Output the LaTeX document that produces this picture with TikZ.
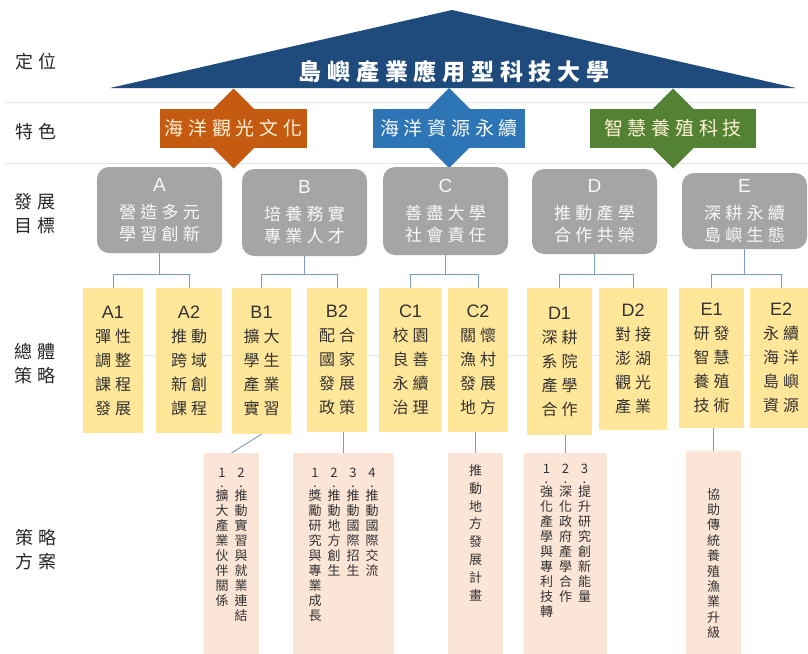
\documentclass[tikz,border=0pt]{standalone}
\usepackage{fontspec}
\setmainfont{Noto Sans CJK TC}
\newfontfamily\spaced[LetterSpace=25]{Noto Sans CJK TC}
\newfontfamily\latin{Liberation Sans}
\definecolor{roofBlue}{HTML}{1F4A7C}
\definecolor{featO}{HTML}{C55A11}
\definecolor{featB}{HTML}{2E75B6}
\definecolor{featG}{HTML}{548235}
\definecolor{featTxt}{HTML}{FFF2D6}
\definecolor{goalGray}{HTML}{A6A4A4}
\definecolor{stratY}{HTML}{FFE699}
\definecolor{planP}{HTML}{FBE5D6}
\definecolor{linkBlue}{HTML}{7A9CC2}
\tikzstyle{rowname}=[font=\spaced\fontsize{18}{24}\selectfont, text=black!85, align=center, inner sep=0]
\tikzstyle{banner}=[font=\spaced\fontsize{19}{23}\selectfont, text=featTxt, inner sep=0, minimum height=39]
\tikzstyle{goal}=[fill=goalGray, rounded corners=12pt, text=white!95!gray, align=center, font=\spaced\fontsize{17}{22}\selectfont, minimum width=125, inner sep=0]
\tikzstyle{strat}=[fill=stratY, align=center, font=\spaced\fontsize{16}{24}\selectfont, text=black!80, inner sep=0]
\tikzstyle{plan}=[fill=planP, anchor=north, minimum height=215, inner sep=0]
\tikzstyle{plantext}=[anchor=north, inner sep=0, font=\fontsize{13}{15}\selectfont, text=black!80]
\tikzstyle{link}=[draw=linkBlue, line width=0.9pt]
\tikzstyle{sep}=[draw=black!10, line width=0.8pt]
% vertical columns of characters
\newdimen\vrow \vrow=15pt
\newcommand\vcell[1]{\hbox to 19pt{\hss\raisebox{0pt}[\dimexpr\vrow-3.5pt\relax][3.5pt]{#1}\hss}}
\def\vchars#1{\ifx\relax#1\else\vcell{#1}\expandafter\vchars\fi}
\newcommand\vcol[2]{\vtop{\offinterlineskip\hbox to 19pt{\hss\raisebox{0pt}[10pt][4pt]{#1}\hss}\hbox to 19pt{\hss\raisebox{0pt}[6pt][2pt]{.}\hss}\vchars#2\relax}}
\newcommand\vplain[1]{\vtop{\offinterlineskip\vchars#1\relax}}

\begin{document}
\begin{tikzpicture}[x=1pt, y=-1pt]
	\useasboundingbox (0,0) rectangle (808,653);
	\draw[sep] (5,102) -- (808,102);
	\draw[sep] (5,163) -- (808,163);
	\draw[draw=linkBlue!25, line width=0.8pt] (83,355) -- (808,355);

	\node[rowname] (rPos) at (36,62) {定位};
	\node[rowname] (rFeat) at (36,132) {特色};
	\node[rowname] (rGoal) at (35,214) {發展\\目標};
	\node[rowname] (rStrat) at (35,364) {總體\\策略};
	\node[rowname] (rPlan) at (36,550) {策略\\方案};

	% roof
	\fill[roofBlue] (110,88) -- (452,10) -- (796,88) -- cycle;
	\node[font=\spaced\bfseries\fontsize{23}{25}\selectfont, text=white] (title) at (454,72) {島嶼產業應用型科技大學};

	\foreach \x/\y/\c in {233.5/128.5/featO, 449/128/featB, 673/128.5/featG}
		\fill[\c] (\x,\y) ++(0,-40) -- ++(40,40) -- ++(-40,40) -- ++(-40,-40) -- cycle;
	\node[banner, fill=featO, minimum width=147] (fTour) at (233.5,128.5) {海洋觀光文化};
	\node[banner, fill=featB, minimum width=152, text=white!95!featB] (fSea) at (449,128) {海洋資源永續};
	\node[banner, fill=featG, minimum width=166] (fAqua) at (673,128.5) {智慧養殖科技};

	\node[goal, minimum height=86] (A) at (159.5,210) {{\latin\fontsize{19}{22}\selectfont A}\\[5pt]營造多元\\學習創新};
	\node[goal, minimum height=87] (B) at (304.5,212.5) {{\latin\fontsize{19}{22}\selectfont B}\\[5pt]培養務實\\專業人才};
	\node[goal, minimum height=88] (C) at (445.5,211) {{\latin\fontsize{19}{22}\selectfont C}\\[5pt]善盡大學\\社會責任};
	\node[goal, minimum height=85] (D) at (594.5,211.5) {{\latin\fontsize{19}{22}\selectfont D}\\[5pt]推動產學\\合作共榮};
	\node[goal, minimum height=76] (E) at (744.5,211) {{\latin\fontsize{19}{22}\selectfont E}\\[5pt]深耕永續\\島嶼生態};

	\foreach \nm/\x/\w/\h/\txt in {A1/113/60/145/{彈性\\調整\\課程\\發展}, A2/189/66/145/{推動\\跨域\\新創\\課程},
		B1/261.5/59/146/{擴大\\學生\\產業\\實習}, B2/337/60/144/{配合\\國家\\發展\\政策},
		C1/410.5/63/144/{校園\\良善\\永續\\治理}, C2/478/60/144/{關懷\\漁村\\發展\\地方},
		D1/559.5/65/147/{深耕\\系院\\產學\\合作}, D2/633/68/142/{對接\\澎湖\\觀光\\產業},
		E1/711.5/65/140/{研發\\智慧\\養殖\\技術}, E2/781/62/140/{永續\\海洋\\島嶼\\資源}}
		\node[strat, minimum width=\w, minimum height=\h] (\nm) at (\x,{288+\h/2}) {{\latin\fontsize{18}{24}\selectfont\nm}\\\txt};

	\coordinate (bar) at (0,274);
	\foreach \g in {A,B,C,D,E}{
		\draw[link] (\g.south) -- (\g.south |- bar);
		\draw[link] (\g1.north) -- (\g1.north |- bar) -| (\g2.north);
	}

	\node[plan, minimum width=55] (pB1) at (231.5,453) {};
	\node[plan, minimum width=101] (pB2) at (343.5,453) {};
	\node[plan, minimum width=55] (pC2) at (475.5,453) {};
	\node[plan, minimum width=83] (pD1) at (565.5,453) {};
	\node[plan, minimum width=55] (pE1) at (713.5,451) {};
	\draw[link] (B1.south) -- (pB1.north);
	\foreach \p in {B2,C2,D1,E1}
		\draw[link] (p\p.north |- \p.south) -- (p\p.north);

	\node[plantext] (tB1) at ([yshift=-14pt]pB1.north) {\vcol{1}{擴大產業伙伴關係}\vcol{2}{推動實習與就業連結}};
	\node[plantext] (tB2) at ([yshift=-14pt]pB2.north) {\vcol{1}{獎勵研究與專業成長}\vcol{2}{推動地方創生}\vcol{3}{推動國際招生}\vcol{4}{推動國際交流}};
	\node[plantext] (tC2) at ([yshift=-8pt]pC2.north) {\vrow=17.8pt\vplain{推動地方發展計畫}};
	\node[plantext] (tD1) at ([yshift=-10pt]pD1.north) {\vcol{1}{強化產學與專利技轉}\vcol{2}{深化政府產學合作}\vcol{3}{提升研究創新能量}};
	\node[plantext] (tE1) at ([yshift=-36pt]pE1.north) {\vrow=15.4pt\vplain{協助傳統養殖漁業升級}};
\end{tikzpicture}
\end{document}
